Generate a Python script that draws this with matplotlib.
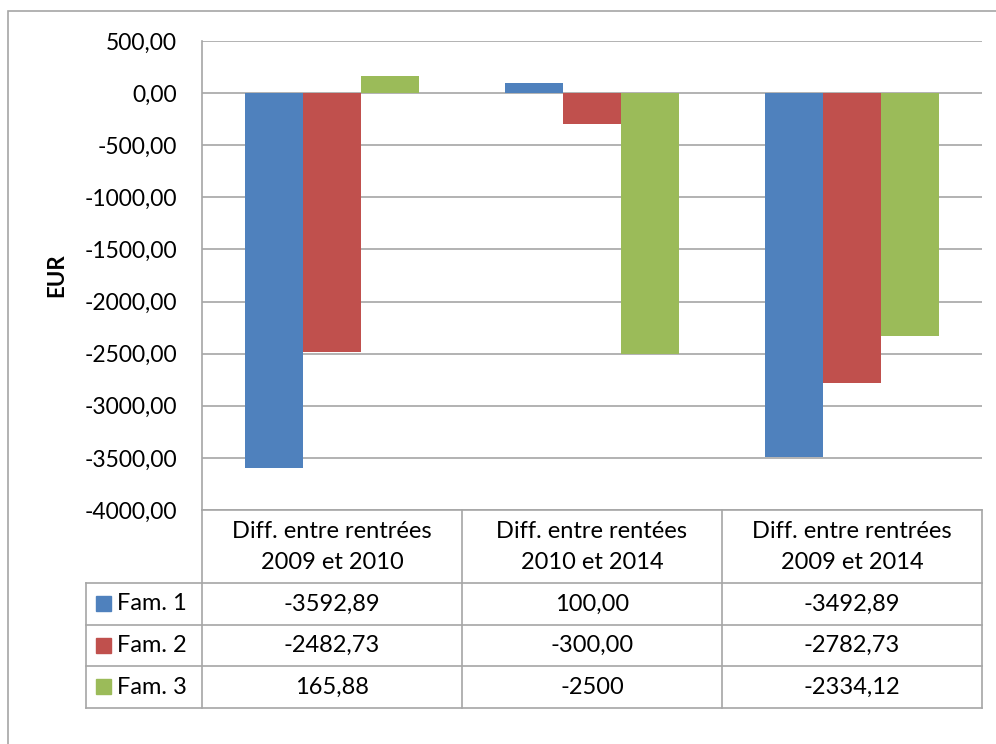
import matplotlib.pyplot as plt
import numpy as np

# data
categories = ["Diff. entre rentrées\n2009 et 2010",
              "Diff. entre rentées\n2010 et 2014",
              "Diff. entre rentrées\n2009 et 2014"]
series = ["Fam. 1", "Fam. 2", "Fam. 3"]
fam1 = [-3592.89, 100.00, -3492.89]
fam2 = [-2482.73, -300.00, -2782.73]
fam3 = [165.88, -2500, -2334.12]
labels1 = ["-3592,89", "100,00", "-3492,89"]
labels2 = ["-2482,73", "-300,00", "-2782,73"]
labels3 = ["165,88", "-2500", "-2334,12"]
colors = ["#4F81BD", "#C0504D", "#9BBB59"]
yticks = np.arange(-4000, 501, 500)

plt.rcParams['font.family'] = ['Lato', 'DejaVu Sans']

W, H = 996, 744
fig = plt.figure(figsize=(W / 100, H / 100), dpi=100)
fig.patch.set_facecolor("white")

def fx(px):
    return px / W

def fy(py):
    return 1 - py / H

# outer chart border
fig.add_artist(plt.Rectangle((fx(8), fy(760)), fx(1000) - fx(8), fy(11) - fy(760),
                             transform=fig.transFigure, fill=False,
                             edgecolor="#A6A6A6", linewidth=1.2))

# plot area
x0, x1, ytop, ybot = 202, 982, 41, 510
ax = fig.add_axes([fx(x0), fy(ybot), fx(x1) - fx(x0), fy(ytop) - fy(ybot)])
ax.set_xlim(0, 3)
ax.set_ylim(-4000, 500)
ax.set_yticks(yticks)
ax.set_yticklabels([f"{v:.2f}".replace(".", ",") for v in yticks], fontsize=16.5)
ax.tick_params(axis="y", length=0, pad=18)
ax.set_xticks([])
ax.yaxis.grid(True, color="#A6A6A6", linewidth=1.2)
ax.set_axisbelow(True)
for s in ["top", "right", "bottom"]:
    ax.spines[s].set_visible(False)
ax.spines["left"].set_color("#A6A6A6")
ax.spines["left"].set_linewidth(1.2)
ax.set_ylabel("EUR", fontsize=16, fontweight="bold", labelpad=12)

bw = 1 / 4.5
x = np.arange(3) + 0.5
for i, vals in enumerate([fam1, fam2, fam3]):
    ax.bar(x + (i - 1) * bw, vals, width=bw, color=colors[i], zorder=3)

# data table
col_edges = [86, 202, 462, 722, 982]
row_edges = [510, 583, 625, 666, 708]
lc = "#A6A6A6"
lw = 1.2
fig.add_artist(plt.Line2D([fx(202), fx(982)], [fy(510), fy(510)], color=lc, lw=lw))
for xe in col_edges[1:]:
    fig.add_artist(plt.Line2D([fx(xe), fx(xe)], [fy(510), fy(708)], color=lc, lw=lw))
for ye in row_edges[1:]:
    fig.add_artist(plt.Line2D([fx(86), fx(982)], [fy(ye), fy(ye)], color=lc, lw=lw))
fig.add_artist(plt.Line2D([fx(86), fx(86)], [fy(583), fy(708)], color=lc, lw=lw))

for j, cat in enumerate(categories):
    cx = (col_edges[j + 1] + col_edges[j + 2]) / 2
    fig.text(fx(cx), fy(547), cat, ha="center", va="center", fontsize=17,
             linespacing=1.6)

for i, (name, labs) in enumerate(zip(series, [labels1, labels2, labels3])):
    cy = (row_edges[i + 1] + row_edges[i + 2]) / 2
    fig.add_artist(plt.Rectangle((fx(96), fy(cy + 7)), fx(15), fy(0) - fy(15),
                                 transform=fig.transFigure, color=colors[i]))
    fig.text(fx(117), fy(cy), name, ha="left", va="center", fontsize=17)
    for j, lab in enumerate(labs):
        cx = (col_edges[j + 1] + col_edges[j + 2]) / 2
        fig.text(fx(cx), fy(cy), lab, ha="center", va="center", fontsize=17)

fig.savefig("out.png", dpi=100)
